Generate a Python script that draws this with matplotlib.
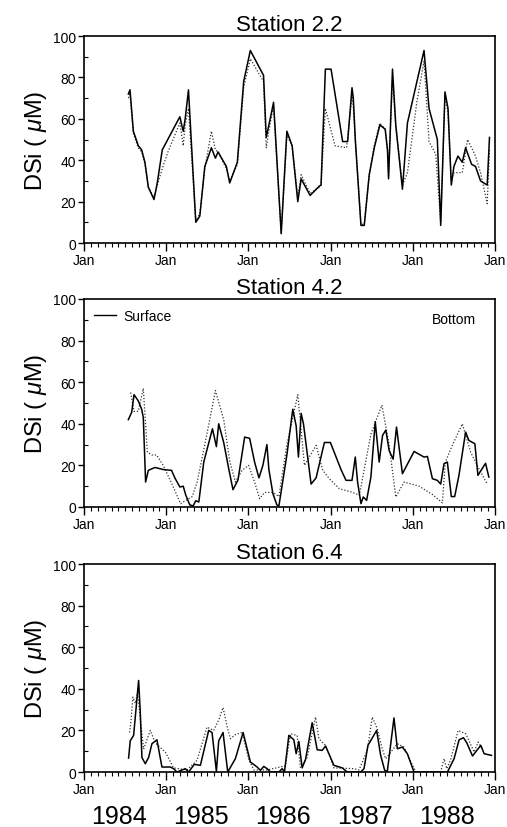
"""Dissolved silica time series at three stations, surface vs bottom."""
import numpy as np
import matplotlib
matplotlib.use("Agg")
import matplotlib.pyplot as plt
from matplotlib.lines import Line2D

plt.rcParams["font.family"] = ["Liberation Sans", "DejaVu Sans"]
plt.rcParams["mathtext.fontset"] = "custom"
plt.rcParams["mathtext.it"] = "Liberation Sans:italic"
plt.rcParams["mathtext.rm"] = "Liberation Sans"

START_YEAR = 1984
YEARS = [1984, 1985, 1986, 1987, 1988]

# time in years after Jan 1984, DSi in uM
st22_surf_t = [0.538, 0.558, 0.599, 0.659, 0.700, 0.740, 0.781, 0.850, 0.890, 0.951,
               1.165, 1.206, 1.230, 1.270, 1.359, 1.408, 1.469, 1.549, 1.598, 1.630,
               1.731, 1.772, 1.865, 1.942, 2.023, 2.184, 2.217, 2.265, 2.306, 2.399,
               2.468, 2.532, 2.601, 2.642, 2.751, 2.864, 2.884, 2.937, 3.006, 3.147,
               3.208, 3.261, 3.277, 3.301, 3.370, 3.410, 3.471, 3.532, 3.600, 3.665,
               3.693, 3.706, 3.754, 3.794, 3.875, 3.936, 4.138, 4.199, 4.300, 4.341,
               4.393, 4.430, 4.470, 4.502, 4.551, 4.604, 4.644, 4.717, 4.765, 4.826,
               4.907, 4.935]
st22_surf_v = [72, 74, 54, 47, 45, 39, 27, 21, 29, 45,
               61, 54, 60, 74, 10, 13, 37, 46, 41, 44,
               37, 29, 39, 78, 93, 81, 51, 60, 68, 4.5,
               54, 47, 20, 31, 23, 27.5, 28, 84, 84, 49,
               49, 75, 70, 50, 8.5, 8.5, 33, 46, 57, 55,
               45, 31, 84, 57, 26, 58, 93, 65, 50, 8.5,
               73, 65, 28, 37, 42, 39, 46, 38, 37, 30,
               28, 51]
st22_bot_t = [0.538, 0.558, 0.599, 0.659, 0.700, 0.740, 0.781, 0.850, 0.890, 0.951,
              1.020, 1.165, 1.206, 1.230, 1.270, 1.359, 1.408, 1.469, 1.549, 1.598,
              1.630, 1.731, 1.772, 1.865, 1.942, 2.023, 2.184, 2.217, 2.265, 2.306,
              2.399, 2.468, 2.532, 2.601, 2.642, 2.751, 2.864, 2.884, 2.937, 3.054,
              3.195, 3.261, 3.277, 3.301, 3.370, 3.410, 3.471, 3.532, 3.600, 3.665,
              3.693, 3.706, 3.754, 3.794, 3.875, 3.936, 4.050, 4.138, 4.199, 4.280,
              4.341, 4.393, 4.430, 4.470, 4.502, 4.604, 4.668, 4.765, 4.826, 4.907,
              4.935]
st22_bot_v = [70, 72, 53, 46, 44, 38, 27, 22, 28, 36,
              44, 58, 47, 57, 65, 11, 14, 36, 54, 45,
              44, 36, 30, 38, 75, 89, 78, 46, 58, 66,
              5, 52, 47, 22, 33, 24, 27, 28, 65, 47,
              46, 71, 66, 50, 9, 9, 33, 47, 58, 55,
              45, 32, 80, 56, 28, 34, 68, 88, 49, 43,
              10, 71, 63, 30, 34, 34, 50, 42, 34, 19,
              45]

st42_surf_t = [0.538, 0.579, 0.607, 0.659, 0.700, 0.720, 0.748, 0.781, 0.862, 0.963,
               1.064, 1.104, 1.165, 1.206, 1.238, 1.286, 1.327, 1.359, 1.396, 1.456,
               1.562, 1.610, 1.638, 1.699, 1.764, 1.812, 1.873, 1.954, 2.015, 2.075,
               2.128, 2.176, 2.225, 2.249, 2.298, 2.346, 2.371, 2.468, 2.540, 2.581,
               2.609, 2.642, 2.670, 2.763, 2.824, 2.925, 2.998, 3.127, 3.188, 3.261,
               3.301, 3.329, 3.370, 3.398, 3.439, 3.491, 3.544, 3.592, 3.633, 3.673,
               3.714, 3.762, 3.803, 3.875, 4.017, 4.138, 4.179, 4.240, 4.300, 4.341,
               4.381, 4.422, 4.470, 4.511, 4.563, 4.644, 4.684, 4.757, 4.794, 4.887,
               4.927]
st42_surf_v = [42, 45.6, 54, 51, 47, 43, 12, 17.6, 19, 18,
               17.6, 14, 9.6, 10, 5.6, 1, 0.5, 3, 2.4, 21.6,
               37.6, 29, 40, 31, 17.6, 8.3, 13, 33.6, 33, 21.6,
               14, 20, 30, 18, 6.4, 1, 0.5, 25, 47, 39,
               24, 45, 40, 11, 14, 31, 31, 18, 12.8, 12.8,
               24, 12, 1.6, 4.8, 3.2, 14.4, 41, 21.6, 34.4, 37,
               27, 23, 38.4, 16, 26.7, 24, 24.3, 13.6, 12.8, 11,
               20.8, 21.6, 5, 5, 15.2, 36, 32, 30.4, 15.2, 21,
               14.4]
st42_bot_t = [0.566, 0.607, 0.659, 0.720, 0.769, 0.822, 0.882, 0.963, 1.092, 1.173,
              1.315, 1.376, 1.469, 1.598, 1.699, 1.772, 1.841, 1.922, 2.002, 2.075,
              2.136, 2.197, 2.298, 2.371, 2.468, 2.601, 2.682, 2.824, 2.905, 2.985,
              3.107, 3.269, 3.350, 3.491, 3.625, 3.714, 3.794, 3.896, 4.078, 4.240,
              4.361, 4.397, 4.482, 4.604, 4.705, 4.806, 4.907]
st42_bot_v = [55, 46, 46, 57, 26.5, 25, 25, 20, 9, 1.6,
              5, 12, 30, 56, 42, 22, 12, 17.6, 20, 12,
              4, 7, 7, 5, 30, 54, 20, 29.6, 17.6, 13.6,
              8.8, 7, 5.6, 35, 49, 29.6, 4.8, 12, 10, 6,
              2, 21.6, 29.6, 40, 26.4, 18.4, 11]

st64_surf_t = [0.541, 0.561, 0.602, 0.663, 0.683, 0.703, 0.744, 0.785, 0.825, 0.886,
               0.947, 1.049, 1.089, 1.130, 1.232, 1.272, 1.341, 1.415, 1.516, 1.557,
               1.610, 1.638, 1.691, 1.748, 1.841, 1.935, 2.024, 2.106, 2.146, 2.187,
               2.228, 2.268, 2.370, 2.411, 2.439, 2.492, 2.553, 2.581, 2.614, 2.654,
               2.695, 2.776, 2.837, 2.898, 2.939, 3.041, 3.142, 3.203, 3.366, 3.407,
               3.455, 3.561, 3.610, 3.659, 3.691, 3.772, 3.813, 3.874, 3.935, 4.016,
               4.423, 4.504, 4.565, 4.618, 4.659, 4.728, 4.829, 4.870, 4.959]
st64_surf_v = [6.7, 15, 17.6, 44, 29, 7, 4, 7, 13.6, 15.5,
               2.4, 2.4, 1.6, 0, 1.6, 0, 3.7, 3.2, 20, 19,
               0.3, 15, 19, 0, 6.4, 19, 4.8, 2.4, 0.8, 2.7,
               1.6, 0, 0, 1.6, 0, 17.6, 15.5, 8.8, 14.7, 2,
               6, 23.7, 10.7, 10.4, 12.5, 3.2, 2, 0, 0, 1.6,
               12.8, 20, 8, 0.8, 0.3, 26, 11.2, 12, 8.8, 0,
               0, 6.4, 15.5, 16.5, 14, 7.7, 12.8, 8.8, 8]
st64_bot_t = [0.553, 0.569, 0.593, 0.622, 0.650, 0.724, 0.805, 0.866, 0.988, 1.089,
              1.252, 1.374, 1.496, 1.577, 1.638, 1.691, 1.740, 1.780, 1.841, 1.923,
              2.004, 2.065, 2.228, 2.451, 2.512, 2.593, 2.634, 2.715, 2.817, 2.858,
              2.939, 3.041, 3.285, 3.346, 3.447, 3.508, 3.569, 3.630, 3.671, 3.813,
              3.894, 3.976, 4.040, 4.340, 4.382, 4.415, 4.463, 4.553, 4.646, 4.748,
              4.797, 4.850]
st64_bot_v = [19, 24, 36, 33, 38, 11, 20, 14, 9.6, 2,
              1, 5.6, 21.6, 20, 25, 31, 22, 16, 18, 19,
              6, 1, 1, 3, 18.4, 17.6, 2, 7, 26.4, 16,
              12.8, 2, 1.6, 1, 10.4, 26.4, 20.8, 11, 6.4, 13.6,
              12, 5, 0, 0, 6.4, 1.6, 6, 20, 18.4, 9.6,
              14.4, 11]

stations = [
    ("Station 2.2", st22_surf_t, st22_surf_v, st22_bot_t, st22_bot_v),
    ("Station 4.2", st42_surf_t, st42_surf_v, st42_bot_t, st42_bot_v),
    ("Station 6.4", st64_surf_t, st64_surf_v, st64_bot_t, st64_bot_v),
]

fig = plt.figure(figsize=(5.07, 8.28), dpi=100)
axes_rects = [
    [0.166, 0.7053, 0.810, 0.2500],
    [0.166, 0.3865, 0.810, 0.2512],
    [0.166, 0.0664, 0.810, 0.2512],
]

for rect, (title, st, sv, bt, bv) in zip(axes_rects, stations):
    ax = fig.add_axes(rect)
    ax.plot(START_YEAR + np.array(bt), bv, color="#333333", lw=0.9,
            linestyle=(0, (1, 1.5)))
    ax.plot(START_YEAR + np.array(st), sv, color="black", lw=1.1)
    ax.set_xlim(START_YEAR, START_YEAR + 5)
    ax.set_ylim(0, 100)
    ax.set_xticks(np.arange(START_YEAR, START_YEAR + 6))
    ax.set_xticklabels(["Jan"] * 6)
    ax.set_xticks(START_YEAR + np.arange(61) / 12, minor=True)
    ax.set_yticks(np.arange(0, 101, 20))
    ax.set_yticks(np.arange(10, 100, 20), minor=True)
    ax.tick_params(axis="x", which="major", direction="out", length=6,
                   width=1.0, pad=1.5, labelsize=10)
    ax.tick_params(axis="x", which="minor", direction="out", length=3, width=0.8)
    ax.tick_params(axis="y", which="major", direction="out", length=4,
                   width=1.0, pad=2, labelsize=10)
    ax.tick_params(axis="y", which="minor", direction="in", length=3, width=0.8)
    for sp in ax.spines.values():
        sp.set_linewidth(1.2)
    ax.set_title(title, fontsize=16, pad=4)
    ax.set_ylabel("DSi ( $\\mu$M)", fontsize=17, labelpad=3)

    if title == "Station 4.2":
        handle = Line2D([], [], color="black", lw=1.0)
        ax.legend([handle], ["Surface"], loc="upper left", frameon=False,
                  fontsize=10, handlelength=1.6, handletextpad=0.5,
                  borderaxespad=0.3, bbox_to_anchor=(0.0, 1.0))
        ax.text(0.955, 0.905, "Bottom", transform=ax.transAxes,
                ha="right", va="center", fontsize=10)
    if title == "Station 6.4":
        for yr in YEARS:
            ax.text(yr + 0.42, -0.21, str(yr), transform=ax.get_xaxis_transform(),
                    ha="center", va="center", fontsize=18)

fig.savefig("out.png", dpi=100)
